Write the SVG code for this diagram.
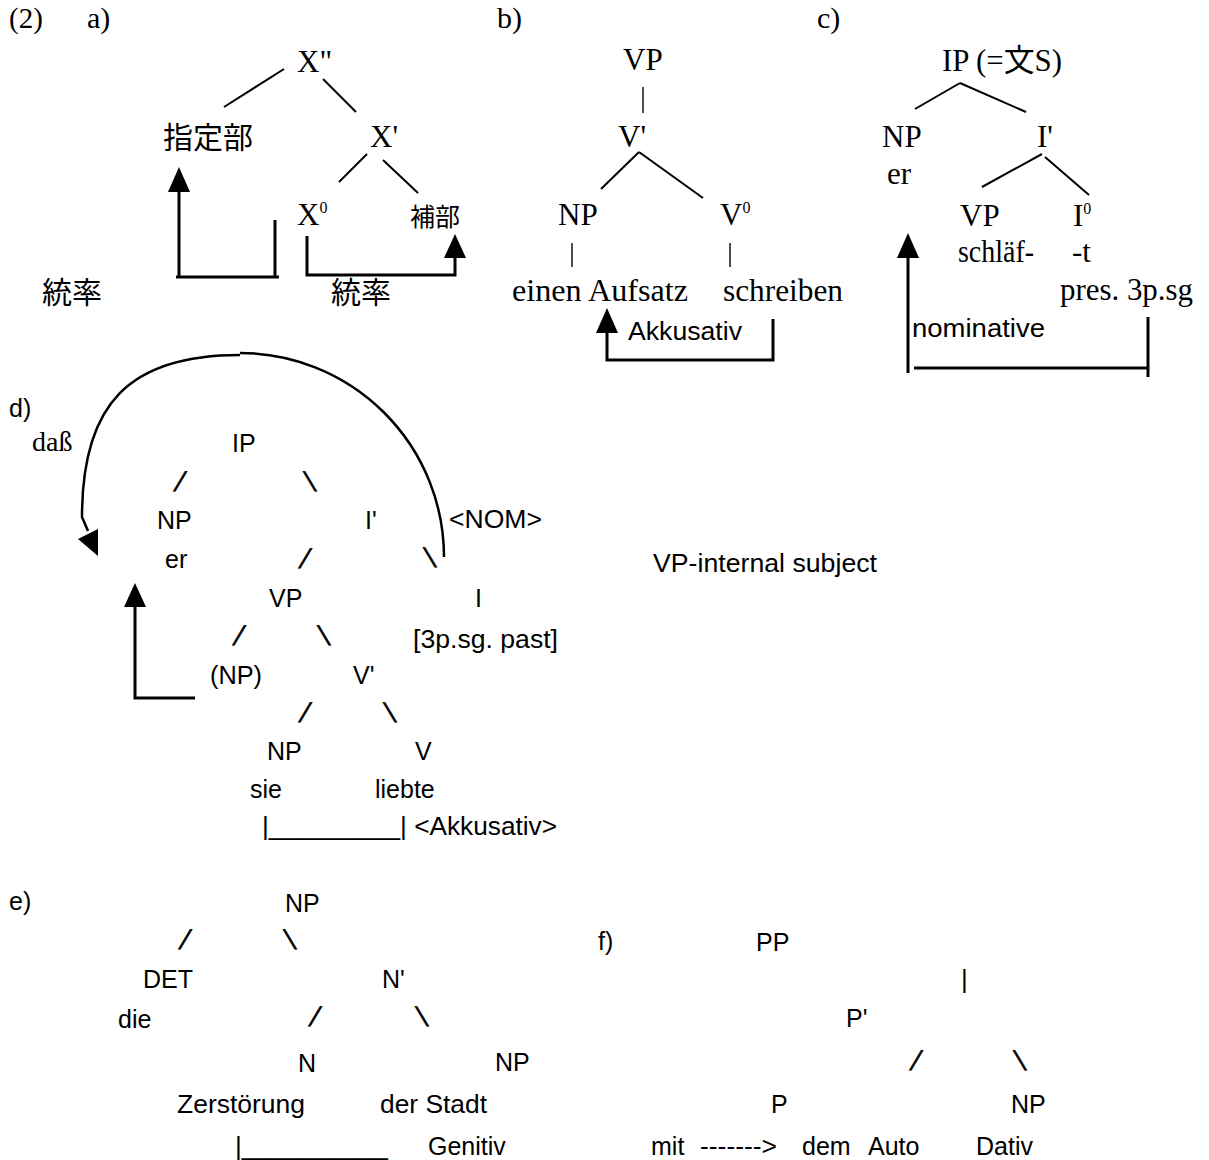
<svg xmlns="http://www.w3.org/2000/svg" width="1209" height="1160" viewBox="0 0 1209 1160">
<style>
.s{font-family:"Liberation Serif","Noto Sans CJK JP",serif;font-size:31px;fill:#000}
.ss{font-family:"Liberation Sans",Arial,sans-serif;font-size:25px;fill:#000}
.sl{font-family:"Liberation Sans",Arial,sans-serif;font-size:27px;fill:#000;stroke:#000;stroke-width:0.7;text-anchor:middle}
.cjk{font-family:"Noto Sans CJK JP","Noto Sans CJK SC",sans-serif;font-size:30px;fill:#000}
.ln{stroke:#000;stroke-width:2;fill:none}
.bar{stroke:#000;stroke-width:1.4;fill:none}
.ar{stroke:#000;stroke-width:3;fill:none}
.hd{fill:#000;stroke:none}
</style>
<rect width="1209" height="1160" fill="#fff"/>
<g id="connectors">
  <!-- a -->
  <line class="ln" x1="224" y1="107" x2="284" y2="69"/>
  <line class="ln" x1="323" y1="79" x2="356" y2="112"/>
  <line class="ln" x1="339" y1="182" x2="367" y2="154"/>
  <line class="ln" x1="383" y1="160" x2="418" y2="193"/>
  <polyline class="ar" points="179,192 179,277 176,277 279,277"/>
  <line class="ar" x1="275" y1="220" x2="275" y2="278"/>
  <polygon class="hd" points="179,167 168,192 190,192"/>
  <polyline class="ar" points="307,236 307,275 455,275 455,256"/>
  <polygon class="hd" points="455,234 444,258 466,258"/>
  <!-- b -->
  <line class="bar" x1="643" y1="87" x2="643" y2="113"/>
  <line class="ln" x1="639" y1="152" x2="601" y2="189"/>
  <line class="ln" x1="639" y1="152" x2="703" y2="198"/>
  <line class="bar" x1="572" y1="243" x2="572" y2="267"/>
  <line class="bar" x1="730" y1="243" x2="730" y2="267"/>
  <polyline class="ar" points="607,332 607,360 773,360 773,319"/>
  <polygon class="hd" points="607,308 596,333 618,333"/>
  <!-- c -->
  <line class="ln" x1="960" y1="83" x2="915" y2="109"/>
  <line class="ln" x1="960" y1="83" x2="1026" y2="112"/>
  <line class="ln" x1="1042" y1="154" x2="982" y2="187"/>
  <line class="ln" x1="1045" y1="157" x2="1089" y2="195"/>
  <line class="ar" x1="908" y1="373" x2="908" y2="256"/>
  <polygon class="hd" points="908,233 897,258 919,258"/>
  <line class="ar" x1="914" y1="368" x2="1148" y2="368"/>
  <line class="ar" x1="1148" y1="317" x2="1148" y2="377"/>
  <!-- d -->
  <path class="ar" style="stroke-width:2.5" d="M240,355 C129,355 82,404 82,517 L88,531"/>
  <path class="ar" style="stroke-width:2.5" d="M240,353 A204,204 0 0 1 444,557"/>
  <polygon class="hd" points="78,539 98,529 98,556"/>
  <polyline class="ar" points="135,605 135,698 195,698"/>
  <polygon class="hd" points="135,583 124,607 146,607"/>
</g>
<g id="labels-head">
  <text class="s" x="9" y="28" style="font-size:29px">(2)</text>
  <text class="s" x="87" y="28" style="font-size:30px">a)</text>
  <text class="s" x="497" y="28" style="font-size:30px">b)</text>
  <text class="s" x="817" y="28" style="font-size:30px">c)</text>
</g>
<g id="tree-a">
  <g id="a-xbar2"><text class="s" x="297" y="72">X"</text></g>
  <g id="a-spec"><text class="cjk" x="163" y="148">指定部</text></g>
  <g id="a-xbar1"><text class="s" x="370" y="147">X'</text></g>
  <g id="a-x0"><text class="s" x="297" y="225">X<tspan style="font-size:16px" dy="-12">0</tspan></text></g>
  <g id="a-comp"><text class="cjk" x="410" y="226" style="font-size:25px">補部</text></g>
  <g id="a-gov1"><text class="cjk" x="42" y="303">統率</text></g>
  <g id="a-gov2"><text class="cjk" x="331" y="303">統率</text></g>
</g>
<g id="tree-b">
  <g id="b-vp"><text class="s" x="623" y="70">VP</text></g>
  <g id="b-vbar"><text class="s" x="618" y="147">V'</text></g>
  <g id="b-np"><text class="s" x="558" y="225">NP</text></g>
  <g id="b-v0"><text class="s" x="720" y="225">V<tspan style="font-size:16px" dy="-12">0</tspan></text></g>
  <g id="b-obj"><text class="s" x="512" y="301" textLength="176" lengthAdjust="spacingAndGlyphs">einen Aufsatz</text></g>
  <g id="b-verb"><text class="s" x="723" y="301" textLength="120" lengthAdjust="spacingAndGlyphs">schreiben</text></g>
  <g id="b-case"><text class="ss" x="628" y="340" textLength="114" lengthAdjust="spacingAndGlyphs">Akkusativ</text></g>
</g>
<g id="tree-c">
  <g id="c-ip"><text class="s" x="942" y="71" textLength="120" lengthAdjust="spacingAndGlyphs">IP (=文S)</text></g>
  <g id="c-np"><text class="s" x="882" y="147">NP</text><text class="s" x="887" y="184">er</text></g>
  <g id="c-ibar"><text class="s" x="1037" y="147">I'</text></g>
  <g id="c-vp"><text class="s" x="960" y="226">VP</text><text class="s" x="958" y="262" textLength="76" lengthAdjust="spacingAndGlyphs">schläf-</text></g>
  <g id="c-i0"><text class="s" x="1073" y="226">I<tspan style="font-size:16px" dy="-12">0</tspan></text><text class="s" x="1072" y="262">-t</text></g>
  <g id="c-feat"><text class="s" x="1060" y="300" textLength="133" lengthAdjust="spacingAndGlyphs">pres. 3p.sg</text></g>
  <g id="c-case"><text class="ss" x="912" y="337" textLength="133" lengthAdjust="spacingAndGlyphs">nominative</text></g>
</g>
<g id="tree-d">
  <text class="ss" x="9" y="417">d)</text>
  <g id="d-dass"><text class="s" x="32" y="451" style="font-size:28px">daß</text></g>
  <g id="d-ip"><text class="ss" x="232" y="452">IP</text></g>
  <text class="sl" transform="translate(177,491) skewX(-18)">/</text>
  <text class="sl" transform="translate(313,491) skewX(18)">\</text>
  <g id="d-np"><text class="ss" x="157" y="529">NP</text><text class="ss" x="165" y="568">er</text></g>
  <g id="d-ibar"><text class="ss" x="365" y="529">I'</text></g>
  <g id="d-nom"><text class="ss" x="449" y="528" textLength="93" lengthAdjust="spacingAndGlyphs">&lt;NOM&gt;</text></g>
  <text class="sl" transform="translate(302,568) skewX(-18)">/</text>
  <text class="sl" transform="translate(433,567) skewX(18)">\</text>
  <g id="d-vp"><text class="ss" x="269" y="607">VP</text></g>
  <g id="d-i"><text class="ss" x="475" y="607">I</text><text class="ss" x="413" y="648" textLength="145" lengthAdjust="spacingAndGlyphs">[3p.sg. past]</text></g>
  <text class="sl" transform="translate(236,645) skewX(-18)">/</text>
  <text class="sl" transform="translate(327,645) skewX(18)">\</text>
  <g id="d-npt"><text class="ss" x="210" y="684" textLength="52" lengthAdjust="spacingAndGlyphs">(NP)</text></g>
  <g id="d-vbar"><text class="ss" x="353" y="684">V'</text></g>
  <text class="sl" transform="translate(302,722) skewX(-18)">/</text>
  <text class="sl" transform="translate(393,722) skewX(18)">\</text>
  <g id="d-np2"><text class="ss" x="267" y="760">NP</text><text class="ss" x="250" y="798">sie</text></g>
  <g id="d-v"><text class="ss" x="415" y="760">V</text><text class="ss" x="375" y="798">liebte</text></g>
  <g id="d-acc"><text class="ss" x="262" y="835" textLength="295" lengthAdjust="spacingAndGlyphs">|_________| &lt;Akkusativ&gt;</text></g>
  <g id="d-note"><text class="ss" x="653" y="572" textLength="224" lengthAdjust="spacingAndGlyphs">VP-internal subject</text></g>
</g>
<g id="tree-e">
  <text class="ss" x="9" y="910">e)</text>
  <g id="e-np"><text class="ss" x="285" y="912">NP</text></g>
  <text class="sl" transform="translate(182,949) skewX(-18)">/</text>
  <text class="sl" transform="translate(293,949) skewX(18)">\</text>
  <g id="e-det"><text class="ss" x="143" y="988">DET</text><text class="ss" x="118" y="1028">die</text></g>
  <g id="e-nbar"><text class="ss" x="382" y="988">N'</text></g>
  <text class="sl" transform="translate(312,1026) skewX(-18)">/</text>
  <text class="sl" transform="translate(425,1026) skewX(18)">\</text>
  <g id="e-n"><text class="ss" x="298" y="1072">N</text><text class="ss" x="177" y="1113" textLength="128" lengthAdjust="spacingAndGlyphs">Zerstörung</text></g>
  <g id="e-np2"><text class="ss" x="495" y="1071">NP</text><text class="ss" x="380" y="1113" textLength="107" lengthAdjust="spacingAndGlyphs">der Stadt</text></g>
  <g id="e-gen"><text class="ss" x="235" y="1155" textLength="153" lengthAdjust="spacingAndGlyphs">|__________</text><text class="ss" x="428" y="1155">Genitiv</text></g>
</g>
<g id="tree-f">
  <text class="ss" x="598" y="950">f)</text>
  <g id="f-pp"><text class="ss" x="756" y="951">PP</text></g>
  <text class="ss" x="961" y="988" style="font-size:26px">|</text>
  <g id="f-pbar"><text class="ss" x="846" y="1027">P'</text></g>
  <text class="sl" transform="translate(913,1070) skewX(-18)">/</text>
  <text class="sl" transform="translate(1023,1070) skewX(18)">\</text>
  <g id="f-p"><text class="ss" x="771" y="1113">P</text><text class="ss" x="651" y="1155">mit</text><text class="ss" x="700" y="1155" textLength="77" lengthAdjust="spacingAndGlyphs">-------&gt;</text></g>
  <g id="f-np"><text class="ss" x="1011" y="1113">NP</text><text class="ss" x="802" y="1155">dem</text><text class="ss" x="868" y="1155">Auto</text><text class="ss" x="976" y="1155">Dativ</text></g>
</g>
</svg>
